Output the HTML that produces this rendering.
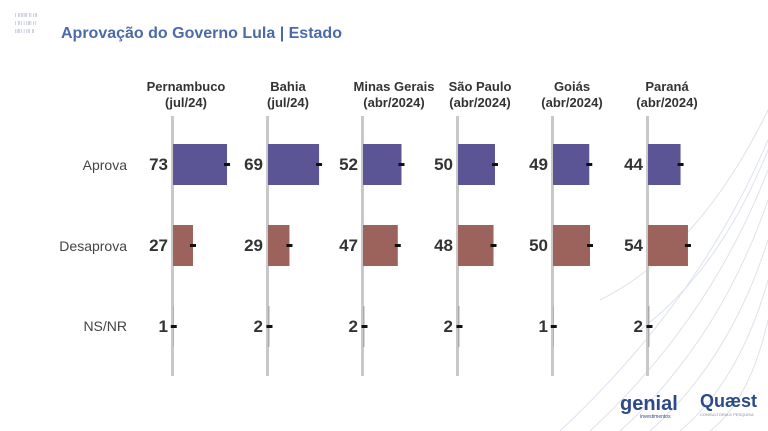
<!DOCTYPE html><html><head><meta charset="utf-8"><style>
body{margin:0;width:768px;height:431px;background:#fff;overflow:hidden;font-family:"Liberation Sans",sans-serif;position:relative}
</style></head><body>
<svg width="768" height="431" style="position:absolute;left:0;top:0" font-family="Liberation Sans, sans-serif">
<g stroke="#dde2ec" fill="none" stroke-width="1">
<path d="M560 431 Q700 300 768 140"/><path d="M590 431 Q710 320 768 170"/><path d="M620 431 Q720 340 768 200"/><path d="M650 431 Q730 360 768 240"/><path d="M680 431 Q740 380 768 280"/><path d="M710 431 Q750 400 768 320"/><path d="M600 300 Q700 250 768 110"/><path d="M640 330 Q720 270 768 150"/>
</g>
<g fill="#9aa7c4" font-size="5"><text x="15" y="17">I IIIIIII II III</text><text x="15" y="25">I III I IIII II</text><text x="15" y="33">IIIII I III II</text></g>
<text x="61" y="38" font-size="16" font-weight="bold" fill="#4a6aa8">Aprovação do Governo Lula | Estado</text>
<g font-size="14" fill="#444" text-anchor="end"><text x="127" y="170">Aprova</text><text x="127" y="251">Desaprova</text><text x="127" y="331">NS/NR</text></g>
<g font-size="13" font-weight="bold" fill="#333" text-anchor="middle">
<text x="186" y="91">Pernambuco</text><text x="186" y="107">(jul/24)</text>
<text x="288" y="91">Bahia</text><text x="288" y="107">(jul/24)</text>
<text x="394" y="91">Minas Gerais</text><text x="394" y="107">(abr/2024)</text>
<text x="480" y="91">São Paulo</text><text x="480" y="107">(abr/2024)</text>
<text x="572" y="91">Goiás</text><text x="572" y="107">(abr/2024)</text>
<text x="667" y="91">Paraná</text><text x="667" y="107">(abr/2024)</text>
</g>
<g id="p"></g>
</svg>
<script>
var ax=[172,267,362,457,552,647],d=[[73,27,1],[69,29,2],[52,47,2],[50,48,2],[49,50,1],[44,54,2]];
var ys=[144,225,306],cols=["#5b5596","#9c625c","#aaa"],s="";
for(var i=0;i<6;i++){var x=ax[i];s+='<rect x="'+(x-1)+'" y="116" width="3" height="260" fill="#c8c8c8"/>';
for(var j=0;j<3;j++){var w=d[i][j]*0.74,y=ys[j];s+='<rect x="'+(x+1)+'" y="'+y+'" width="'+w+'" height="41" fill="'+cols[j]+'"/>';
s+='<rect x="'+(x+w-2)+'" y="'+(y+19)+'" width="6" height="3" fill="#111"/>';
s+='<text x="'+(x-4)+'" y="'+(y+26)+'" font-size="17" font-weight="bold" fill="#333" text-anchor="end">'+d[i][j]+'</text>';}}
s+='<text x="620" y="410" font-size="20" font-weight="bold" fill="#2c4a8a">genial</text><text x="640" y="418" font-size="5" fill="#2c4a8a">investimentos</text>';
s+='<text x="700" y="407" font-size="18" font-weight="bold" fill="#2c4a8a">Quæst</text><text x="700" y="416" font-size="4" fill="#889">CONSULTORIA E PESQUISA</text>';
document.getElementById("p").outerHTML=s;
</script>
</body></html>
